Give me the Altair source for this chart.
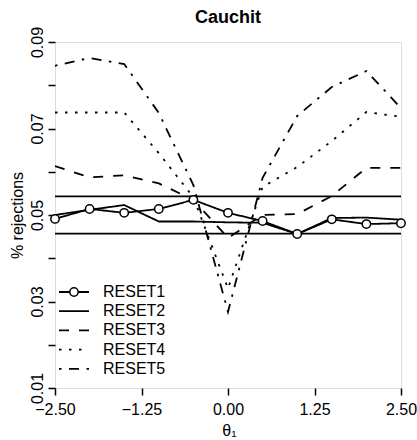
import altair as alt
import pandas as pd

# ---- data ----
theta = [-2.5, -2.0, -1.5, -1.0, -0.5, 0.0, 0.5, 1.0, 1.5, 2.0, 2.5]
reset1 = [0.0491, 0.0514, 0.0505, 0.0514, 0.0535, 0.0505, 0.0486, 0.0456, 0.0490, 0.0479, 0.0481]
reset2 = [0.0500, 0.0512, 0.0523, 0.0485, 0.0485, 0.0483, 0.0482, 0.0456, 0.0493, 0.0494, 0.0489]
reset3 = [0.0613, 0.0587, 0.0592, 0.0573, 0.0535, 0.0447, 0.0500, 0.0502, 0.0544, 0.0609, 0.0609]
reset4 = [0.0737, 0.0737, 0.0737, 0.0643, 0.0541, 0.0330, 0.0565, 0.0611, 0.0671, 0.0738, 0.0727]
reset5 = [0.0845, 0.0863, 0.0849, 0.0736, 0.0569, 0.0276, 0.0586, 0.0729, 0.0796, 0.0833, 0.0747]
series_names = ["RESET1", "RESET2", "RESET3", "RESET4", "RESET5"]
band_levels = [0.0457, 0.0543]
x_ticks = [-2.5, -1.25, 0.0, 1.25, 2.5]
y_ticks = [0.01, 0.02, 0.03, 0.04, 0.05, 0.06, 0.07, 0.08, 0.09]
y_labels = ["0.01", "0.03", "0.05", "0.07", "0.09"]
title_text = "Cauchit"

# ---- styles ----
FONT = "Liberation Sans"
W = H = 346
LW = 1.8
dashes = [[1, 0], [1, 0], [10, 10], [2.5, 7.5], [2.5, 7.5, 10, 7.5]]

rows = []
for name, vals in zip(series_names, [reset1, reset2, reset3, reset4, reset5]):
    for t, v in zip(theta, vals):
        rows.append({"theta": t, "rej": v, "series": name})
df = pd.DataFrame(rows)

xscale = alt.Scale(domain=[-2.5, 2.5], nice=False, zero=False)
yscale = alt.Scale(domain=[0.01, 0.09], nice=False, zero=False)
dash_scale = alt.Scale(domain=series_names, range=dashes)

label_list = ",".join("'%s'" % s for s in y_labels)
y_label_expr = "indexof([%s], format(datum.value, '.2f')) >= 0 ? format(datum.value, '.2f') : ''" % label_list

x_axis = alt.Axis(
    values=x_ticks, format=".2f", title="θ₁", grid=False, domain=False,
    tickSize=7, tickWidth=1.5, tickColor="black",
    labelFont=FONT, labelFontSize=16, labelColor="black", labelPadding=6,
    labelFlush=False, labelOverlap=False,
    titleFont=FONT, titleFontSize=16, titleFontWeight="normal", titleColor="black",
    titleX=174, titleY=47, titleBaseline="alphabetic", titleAlign="center",
)
y_axis = alt.Axis(
    values=y_ticks, labelExpr=y_label_expr, title="% rejections", grid=False, domain=False,
    tickSize=7, tickWidth=1.5, tickColor="black",
    labelFont=FONT, labelFontSize=16, labelColor="black", labelPadding=6,
    labelAngle=270, labelAlign="center", labelBaseline="alphabetic",
    labelFlush=False, labelOverlap=False,
    titleFont=FONT, titleFontSize=16, titleFontWeight="normal", titleColor="black",
    titleAngle=270, titleX=-33, titleY=173, titleBaseline="alphabetic", titleAlign="center",
)

lines = alt.Chart(df).mark_line(color="black", strokeWidth=LW).encode(
    x=alt.X("theta:Q", scale=xscale, axis=x_axis),
    y=alt.Y("rej:Q", scale=yscale, axis=y_axis),
    strokeDash=alt.StrokeDash("series:N", scale=dash_scale, legend=None),
)

refs = alt.Chart(pd.DataFrame({"level": band_levels})).mark_rule(
    color="black", strokeWidth=LW
).encode(y=alt.Y("level:Q", scale=yscale))

circles = alt.Chart(df[df["series"] == "RESET1"]).mark_point(
    shape="circle", fill="white", fillOpacity=1, stroke="black", strokeWidth=1.5,
    size=70, opacity=1
).encode(
    x=alt.X("theta:Q", scale=xscale),
    y=alt.Y("rej:Q", scale=yscale),
)

title_mark = alt.Chart(pd.DataFrame({"t": [title_text]})).mark_text(
    align="center", baseline="alphabetic", font=FONT, fontSize=18,
    fontWeight="bold", color="black"
).encode(x=alt.value(W / 2), y=alt.value(-19), text="t:N")

layers = [refs, lines, circles, title_mark]

# ---- legend (bottom-left, inside the plot) ----
for i, name in enumerate(series_names):
    ly = 250 + 19.2 * i
    ldf = pd.DataFrame({"series": [name]})
    layers.append(
        alt.Chart(ldf).mark_rule(color="black", strokeWidth=LW).encode(
            x=alt.value(4), x2=alt.value(34), y=alt.value(ly),
            strokeDash=alt.value(dashes[i]),
        )
    )
    if i == 0:
        layers.append(
            alt.Chart(ldf).mark_point(
                shape="circle", fill="white", fillOpacity=1, stroke="black",
                strokeWidth=1.5, size=70, opacity=1
            ).encode(x=alt.value(19), y=alt.value(ly))
        )
    layers.append(
        alt.Chart(ldf).mark_text(
            align="left", baseline="middle", font=FONT, fontSize=16, color="black"
        ).encode(x=alt.value(48), y=alt.value(ly), text="series:N")
    )

chart = alt.layer(*layers).properties(
    width=W, height=H,
    padding={"left": 55, "top": 42, "right": 16, "bottom": 52},
    autosize=alt.AutoSizeParams(type="none"),
).configure_view(stroke="black", strokeWidth=LW).configure(background="white")

chart.save("out.html", embed_options={"renderer": "svg", "actions": False})
